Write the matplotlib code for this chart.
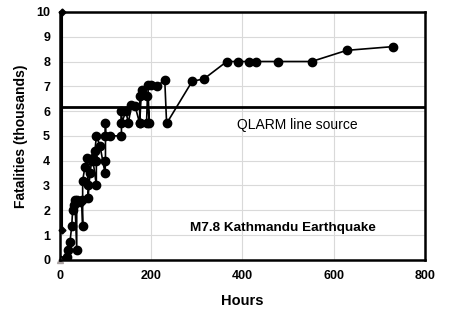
import matplotlib
matplotlib.use("Agg")
from matplotlib import pyplot as plt

plt.rcParams['font.family'] = ['Liberation Sans', 'DejaVu Sans']

# Reported fatalities over time (hours, thousands)
hours = [0, 15, 18, 22, 26, 28, 30, 33, 37, 37, 45, 48, 50, 50, 55, 59, 62, 62,
         66, 70, 72, 80, 80, 77, 80, 88, 99, 100, 100, 100, 110, 135, 135, 135,
         145, 150, 157, 165, 175, 175, 179, 175, 190, 192, 196, 193, 200, 212,
         230, 234, 290, 316, 366, 390, 414, 431, 478, 552, 629, 730]
deaths = [0, 0.1, 0.4, 0.7, 1.35, 2.0, 2.2, 2.4, 0.4, 2.4, 2.35, 2.4, 1.35, 3.2,
          3.75, 4.1, 3.0, 2.5, 3.5, 4.0, 4.1, 3.0, 4.0, 4.4, 5.0, 4.6, 3.5, 4.0,
          5.5, 5.0, 5.0, 5.0, 6.0, 5.5, 6.0, 5.5, 6.25, 6.2, 5.5, 6.6, 6.85, 5.5,
          5.5, 6.6, 5.5, 7.05, 7.05, 7.0, 7.25, 5.5, 7.2, 7.3, 8.0, 8.0, 8.0,
          8.0, 8.0, 8.0, 8.45, 8.6]

# QLARM estimates
qlarm_point_h = [5, 5]
qlarm_point_v = [10, 1.2]
qlarm_line = 6.15

fig = plt.figure(figsize=(4.5, 3.22), dpi=100)
ax = fig.add_axes([0.133, 0.193, 0.811, 0.77])

ax.grid(True, color='#d9d9d9', lw=0.8)
ax.set_axisbelow(True)

ax.axhline(qlarm_line, color='black', lw=2)
ax.plot(qlarm_point_h, qlarm_point_v, color='black', lw=1.5,
        marker='D', markersize=3.5, clip_on=False, zorder=4)
ax.plot(hours, deaths, color='black', lw=1.2, marker='o', markersize=6)
ax.plot([0], [0], marker='^', color='#a8a0a0', markersize=5, clip_on=False)

ax.text(521, 5.45, 'QLARM line source', fontsize=10, ha='center', va='center')
ax.text(488, 1.3, 'M7.8 Kathmandu Earthquake', fontsize=9.7, fontweight='bold',
        ha='center', va='center')

ax.set_xlim(0, 800)
ax.set_ylim(0, 10)
ax.set_xticks([0, 200, 400, 600, 800])
ax.set_yticks(range(0, 11))
ax.tick_params(length=0, labelsize=9, pad=7)
for lbl in ax.get_xticklabels() + ax.get_yticklabels():
    lbl.set_fontweight('bold')

for s in ax.spines.values():
    s.set_linewidth(1.8)
    s.set_color('black')

ax.set_xlabel('Hours', fontsize=10.5, fontweight='bold', labelpad=9)
ax.set_ylabel('Fatalities (thousands)', fontsize=10, fontweight='bold', labelpad=6)

fig.savefig('out.png', dpi=100, facecolor='white')
